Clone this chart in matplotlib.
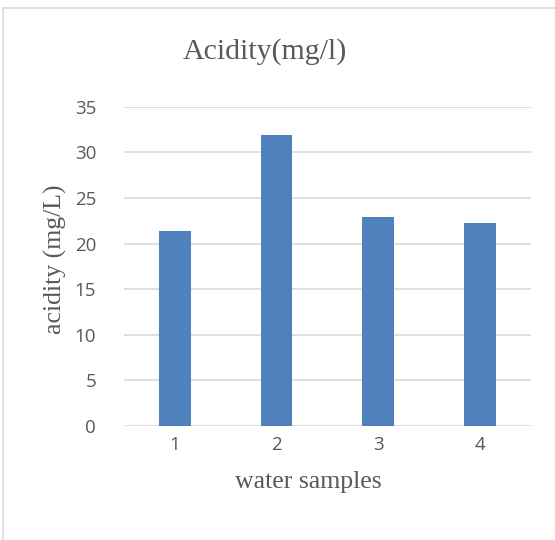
import matplotlib
matplotlib.use("Agg")
import matplotlib.pyplot as plt
from matplotlib.patches import Rectangle

# data
samples = ["1", "2", "3", "4"]
acidity = [21.4, 31.9, 22.9, 22.2]
y_ticks = [0, 5, 10, 15, 20, 25, 30, 35]

text_grey = "#595959"
bar_blue = "#4F81BD"
serif = ["Liberation Serif", "DejaVu Serif"]
sans = ["Open Sans", "DejaVu Sans"]

fig = plt.figure(figsize=(5.55, 5.4), dpi=100)

# light chart-area border, runs off the right/bottom edge
fig.patches.append(Rectangle((3 / 555, -0.05), 1.0, 1 - 8 / 540 + 0.05,
                             transform=fig.transFigure, fill=False,
                             edgecolor="#D9D9D9", linewidth=1.2))

ax = fig.add_axes([0.2234, 0.2111, 0.733, 0.5913])
x = list(range(len(samples)))
ax.bar(x, acidity, width=0.31, color=bar_blue, zorder=3)

ax.set_xlim(-0.5, 3.5)
ax.set_ylim(0, 35)
ax.set_yticks(y_ticks)
ax.set_xticks(x)
ax.set_xticklabels(samples)
ax.grid(axis="y", color="#D9D9D9", linewidth=1.2, zorder=0)
ax.tick_params(length=0, labelsize=13.5, colors=text_grey)
ax.tick_params(axis="y", pad=20)
ax.tick_params(axis="x", pad=7)
for lbl in ax.get_xticklabels() + ax.get_yticklabels():
    lbl.set_family(sans)
for s in ax.spines.values():
    s.set_visible(False)

fig.text(265 / 555, 1 - 52 / 540, "Acidity(mg/l)", ha="center", va="center",
         fontsize=21.5, family=serif, color=text_grey)
fig.text(55 / 555, 1 - 259 / 540, "acidity (mg/L)", ha="center", va="center",
         rotation=90, fontsize=18.5, family=serif, color=text_grey)
fig.text(308 / 555, 1 - 482 / 540, "water samples", ha="center", va="center",
         fontsize=18.5, family=serif, color=text_grey)

fig.savefig("out.png", dpi=100)
